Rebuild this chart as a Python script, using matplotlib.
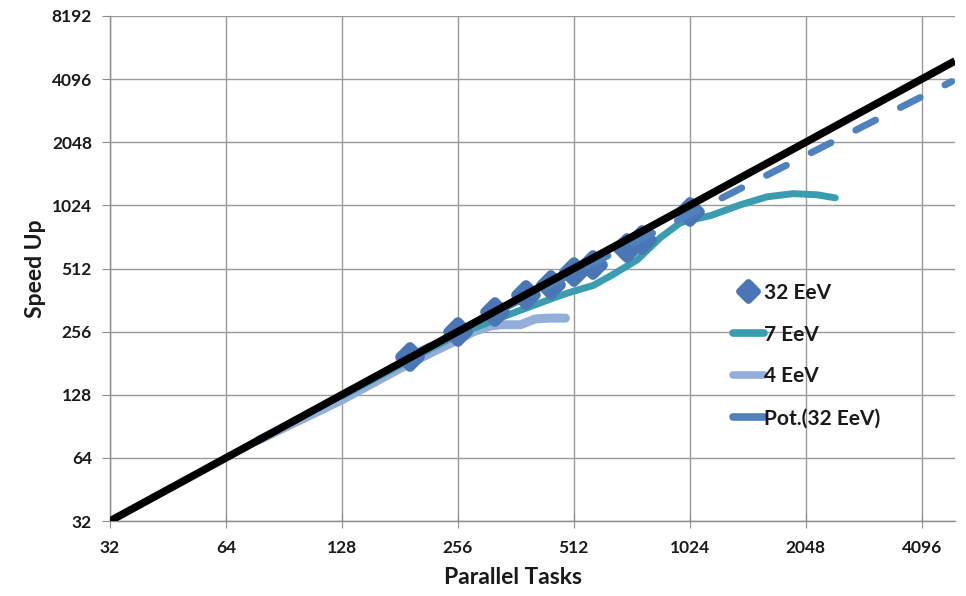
import numpy as np
import matplotlib
matplotlib.use("Agg")
import matplotlib.pyplot as plt
from matplotlib.lines import Line2D
from matplotlib.markers import MarkerStyle

plt.rcParams['font.family'] = ['Lato', 'DejaVu Sans']

# ticks
tick_vals = [32, 64, 128, 256, 512, 1024, 2048, 4096]
ytick_vals = [32, 64, 128, 256, 512, 1024, 2048, 4096, 8192]

# 32 EeV measured speed up
tasks_32 = [192, 256, 320, 384, 448, 512, 576, 704, 768, 1024]
speed_32 = [194, 255, 318, 384, 428, 493, 532, 642, 700, 953]

# 7 EeV
tasks_7 = [128, 192, 256, 330, 400, 471, 509, 575, 648, 748, 858, 967, 1024,
           1160, 1385, 1626, 1900, 2195, 2444]
speed_7 = [126, 188, 248, 298, 340, 380, 398, 425, 480, 563, 717, 845, 870,
           915, 1030, 1125, 1165, 1150, 1112]

# 4 EeV
tasks_4 = [78, 128, 192, 256, 280, 310, 330, 372, 406, 440, 487]
speed_4 = [78, 121, 181, 234, 255, 272, 276, 276, 294, 297, 297]

# ideal speed up
ideal_x = [32, 5000]
ideal_y = [32, 5000]

# power trendline of 32 EeV
trend_range = [192, 4900]

blue_dark = '#4a76b6'
blue_trend = '#4f81bd'
teal = '#3a9cb1'
light = '#93afd9'

round_diamond = MarkerStyle('D', joinstyle='round')

fig = plt.figure(figsize=(9.66, 5.96), dpi=100)
ax = fig.add_axes([110/966, 1-521/596, (955-110)/966, (521-16)/596])

ax.set_xscale('log', base=2)
ax.set_yscale('log', base=2)

ax.plot(tasks_4, speed_4, color=light, lw=6.5, solid_capstyle='round',
        solid_joinstyle='round', zorder=3)
ax.plot(tasks_7, speed_7, color=teal, lw=5.0, solid_capstyle='round',
        solid_joinstyle='round', zorder=4)
ax.plot(tasks_32, speed_32, linestyle='none', marker=round_diamond, markersize=10,
        color=blue_dark, markeredgecolor=blue_dark, markeredgewidth=7,
        zorder=5)

b, a = np.polyfit(np.log(tasks_32), np.log(speed_32), 1)
tx = np.geomspace(trend_range[0], trend_range[1], 100)
ty = np.exp(a) * tx ** b
ax.plot(tx, ty, color=blue_trend, lw=5.0, dashes=(3.2, 4.0),
        dash_capstyle='round', zorder=6)

ax.plot(ideal_x, ideal_y, color='black', lw=5.5, solid_capstyle='butt', zorder=7)

ax.set_xlim(32, 5000)
ax.set_ylim(32, 8192)
ax.set_xticks(tick_vals)
ax.set_xticklabels([str(v) for v in tick_vals])
ax.set_yticks(ytick_vals)
ax.set_yticklabels([str(v) for v in ytick_vals])
ax.minorticks_off()

ax.grid(True, color='#9a9a9a', lw=1.0)
ax.set_axisbelow(True)
for s in ['top', 'right']:
    ax.spines[s].set_visible(False)
for s in ['left', 'bottom']:
    ax.spines[s].set_color('#8c8c8c')
    ax.spines[s].set_linewidth(1.0)

ax.tick_params(axis='x', direction='inout', length=10, color='#8c8c8c',
               labelsize=12.5, pad=9)
ax.tick_params(axis='y', direction='out', length=6, color='#8c8c8c',
               labelsize=12.5, pad=7)
for lab in ax.get_xticklabels() + ax.get_yticklabels():
    lab.set_fontweight('bold')
    lab.set_color('#1a1a1a')

ax.set_xlabel('Parallel Tasks', fontsize=16.5, fontweight='bold', color='#1a1a1a')
ax.set_ylabel('Speed Up', fontsize=16.5, fontweight='bold', color='#1a1a1a')
ax.xaxis.set_label_coords((513-110)/845, -(578-521)/505, transform=ax.transAxes)
ax.yaxis.set_label_coords(-(110-35)/845, 0.5, transform=ax.transAxes)
ax.xaxis.label.set_va('center')
ax.yaxis.label.set_va('center')

handles = [
    Line2D([], [], linestyle='none', marker=round_diamond, markersize=9,
           markeredgewidth=5, color=blue_dark),
    Line2D([], [], color=teal, lw=5.5, solid_capstyle='round'),
    Line2D([], [], color=light, lw=5.5, solid_capstyle='round'),
    Line2D([], [], color=blue_trend, lw=5.5, solid_capstyle='round'),
]
labels = ['32 EeV', '7 EeV', '4 EeV', 'Pot.(32 EeV)']
leg = fig.legend(handles, labels, loc='upper left',
                 bbox_to_anchor=(714/966, 1-264/596), frameon=False,
                 prop={'size': 15, 'weight': 'bold'}, handlelength=1.5,
                 handletextpad=0.0, labelspacing=1.05)
for t in leg.get_texts():
    t.set_color('#1a1a1a')

fig.savefig('out.png', dpi=100)
